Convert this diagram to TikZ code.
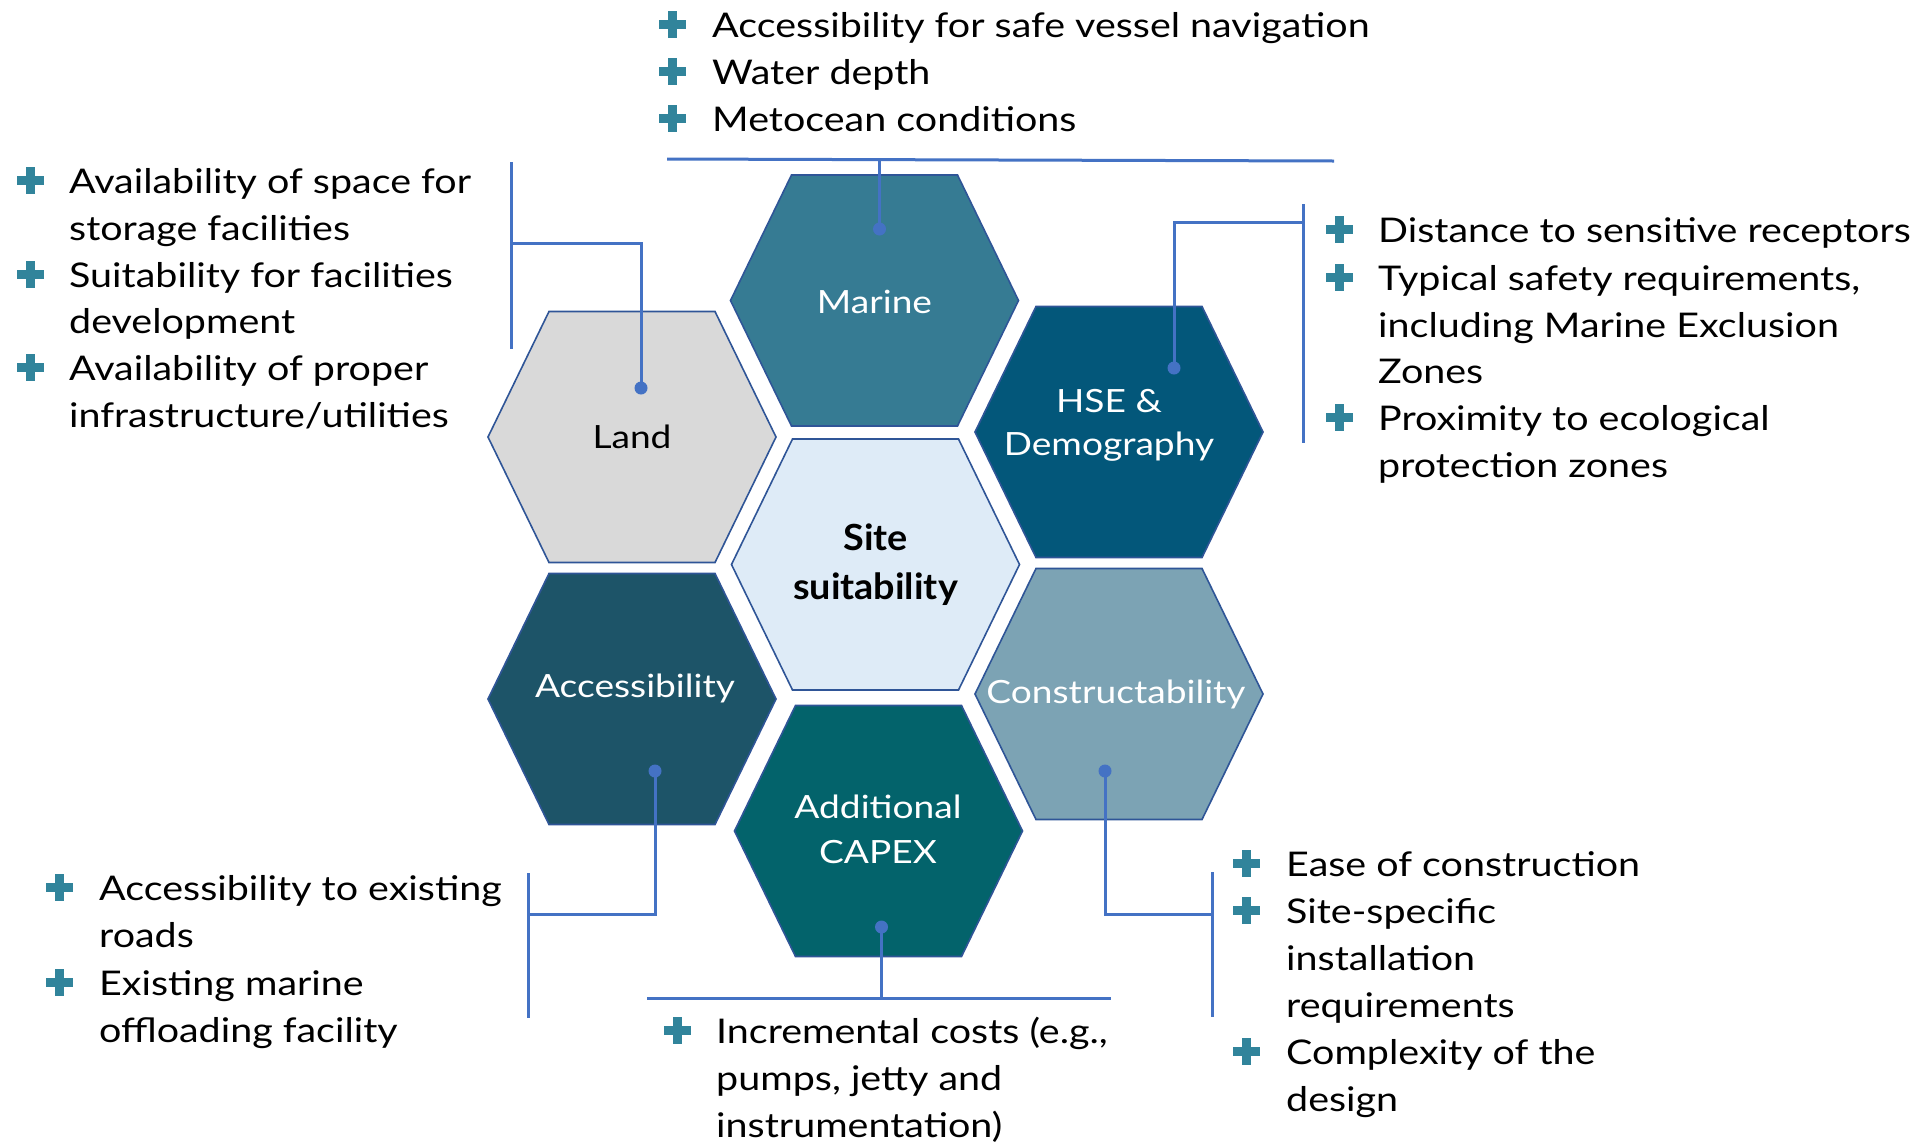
\documentclass[tikz,border=0pt]{standalone}
\usepackage{fontspec}
\setmainfont{Lato}[FakeStretch=1.16, BoldFeatures={FakeStretch=1.05}]
\definecolor{cMarine}{HTML}{367B93}
\definecolor{cLand}{HTML}{D9D9D9}
\definecolor{cHSE}{HTML}{03577A}
\definecolor{cSite}{HTML}{DEEBF7}
\definecolor{cAcc}{HTML}{1D5468}
\definecolor{cCon}{HTML}{7CA3B4}
\definecolor{cCap}{HTML}{03636B}
\definecolor{cEdge}{HTML}{2F5597}
\definecolor{cConn}{HTML}{4472C4}
\definecolor{cPlus}{HTML}{31849B}
\tikzset{
 hexpic/.pic={\filldraw[draw=cEdge, line width=1.6pt, fill=#1] (-144,0) -- (-83,125.5) -- (83,125.5) -- (144,0) -- (83,-125.5) -- (-83,-125.5) -- cycle;},
 plusmk/.pic={\fill[cPlus] (-13.5,-4.5) rectangle (13.5,4.5); \fill[cPlus] (-4.5,-13.5) rectangle (4.5,13.5);},
 txt/.style={anchor=base west, inner sep=0pt, font=\fontsize{34}{40}\selectfont},
 hlab/.style={anchor=base, inner sep=0pt, font=\fontsize{32}{38}\selectfont},
 slab/.style={anchor=base, inner sep=0pt, font=\fontsize{36}{42}\selectfont\bfseries},
 dotn/.style={circle, fill=cConn, inner sep=0pt, minimum size=13pt},
 conn/.style={draw=cConn, line width=3pt},
}
\begin{document}
\begin{tikzpicture}[x=1pt,y=-1pt]
\useasboundingbox[fill=white] (0,0) rectangle (1923,1144);

% hexagons
\pic at (874.5,300.5) {hexpic=cMarine};
\pic at (632,437) {hexpic=cLand};
\pic at (1119,432) {hexpic=cHSE};
\pic at (875.5,564.5) {hexpic=cSite};
\pic at (632,699) {hexpic=cAcc};
\pic at (1119,694) {hexpic=cCon};
\pic at (878.5,831) {hexpic=cCap};

% hexagon labels
\node[hlab, text=white] (lMarine) at (874.5,313) {Marine};
\node[hlab, text=black] (lLand) at (632,448) {Land};
\node[hlab, text=white] (lHSEa) at (1109,412) {HSE \&};
\node[hlab, text=white] (lHSEb) at (1109,455) {Demography};
\node[slab, text=black] (lSitea) at (875.5,550) {Site};
\node[slab, text=black] (lSiteb) at (875.5,599) {suitability};
\node[hlab, text=white] (lAcc) at (635,697) {Accessibility};
\node[hlab, text=white] (lCon) at (1116,703) {Constructability};
\node[hlab, text=white] (lCapa) at (878,818) {Additional};
\node[hlab, text=white] (lCapb) at (878,863) {CAPEX};

% dots
\node[dotn] (dMarine) at (879.5,229) {};
\node[dotn] (dLand) at (641,388) {};
\node[dotn] (dHSE) at (1174,368) {};
\node[dotn] (dAcc) at (655,771) {};
\node[dotn] (dCon) at (1105,771) {};
\node[dotn] (dCap) at (881.5,927) {};

% connector coordinates
\coordinate (mL) at (667,159);
\coordinate (mR) at (1334,161);
\coordinate (mJ) at (879.5,160);
\coordinate (landT) at (511,162);
\coordinate (landB) at (511,349);
\coordinate (landK) at (641,243);
\coordinate (hseT) at (1303,204);
\coordinate (hseB) at (1303,443);
\coordinate (hseK) at (1174,222);
\coordinate (accT) at (528,873);
\coordinate (accB) at (528,1018);
\coordinate (accK) at (655,914);
\coordinate (conT) at (1212,872);
\coordinate (conB) at (1212,1017);
\coordinate (conK) at (1105,914);
\coordinate (capL) at (647,998);
\coordinate (capR) at (1111,998);
\coordinate (capK) at (881.5,998);

% connectors
\draw[conn] (mL) -- (mR);
\draw[conn] (dMarine.center) -- (mJ);
\draw[conn] (landT) -- (landB);
\draw[conn] (dLand.center) -- (landK) -- (landK -| landT);
\draw[conn] (hseT) -- (hseB);
\draw[conn] (dHSE.center) -- (hseK) -- (hseK -| hseT);
\draw[conn] (accT) -- (accB);
\draw[conn] (dAcc.center) -- (accK) -- (accK -| accT);
\draw[conn] (conT) -- (conB);
\draw[conn] (dCon.center) -- (conK) -- (conK -| conT);
\draw[conn] (capL) -- (capR);
\draw[conn] (dCap.center) -- (capK);

% top list (Marine)
\pic at (672,24.5) {plusmk};
\pic at (672,71.5) {plusmk};
\pic at (672,118.5) {plusmk};
\node[txt] (ma1) at (712,37) {Accessibility for safe vessel navigation};
\node[txt] (ma2) at (712,84) {Water depth};
\node[txt] (ma3) at (712,131) {Metocean conditions};

% left list (Land)
\pic at (30,180.5) {plusmk};
\pic at (30,274.5) {plusmk};
\pic at (30,367.5) {plusmk};
\node[txt] (la1) at (69,193) {Availability of space for};
\node[txt] (la2) at (69,240) {storage facilities};
\node[txt] (la3) at (69,287) {Suitability for facilities};
\node[txt] (la4) at (69,333) {development};
\node[txt] (la5) at (69,380) {Availability of proper};
\node[txt] (la6) at (69,427) {infrastructure/utilities};

% right list (HSE)
\pic at (1339,229.5) {plusmk};
\pic at (1339,277.5) {plusmk};
\pic at (1339,417.5) {plusmk};
\node[txt] (ha1) at (1378,242) {Distance to sensitive receptors};
\node[txt] (ha2) at (1378,290) {Typical safety requirements,};
\node[txt] (ha3) at (1378,337) {including Marine Exclusion};
\node[txt] (ha4) at (1378,383) {Zones};
\node[txt] (ha5) at (1378,430) {Proximity to ecological};
\node[txt] (ha6) at (1378,477) {protection zones};

% bottom left list (Accessibility)
\pic at (59,887.5) {plusmk};
\pic at (59,982.5) {plusmk};
\node[txt] (aa1) at (99,900) {Accessibility to existing};
\node[txt] (aa2) at (99,947) {roads};
\node[txt] (aa3) at (99,995) {Existing marine};
\node[txt] (aa4) at (99,1042) {offloading facility};

% bottom middle list (CAPEX)
\pic at (677,1030) {plusmk};
\node[txt] (ca1) at (716,1043) {Incremental costs (e.g.,};
\node[txt] (ca2) at (716,1090) {pumps, jetty and};
\node[txt] (ca3) at (716,1137) {instrumentation)};

% bottom right list (Constructability)
\pic at (1246,863) {plusmk};
\pic at (1246,910) {plusmk};
\pic at (1246,1051) {plusmk};
\node[txt] (ka1) at (1286,876) {Ease of construction};
\node[txt] (ka2) at (1286,923) {Site-specific};
\node[txt] (ka3) at (1286,970) {installation};
\node[txt] (ka4) at (1286,1017) {requirements};
\node[txt] (ka5) at (1286,1064) {Complexity of the};
\node[txt] (ka6) at (1286,1111) {design};
\end{tikzpicture}
\end{document}
